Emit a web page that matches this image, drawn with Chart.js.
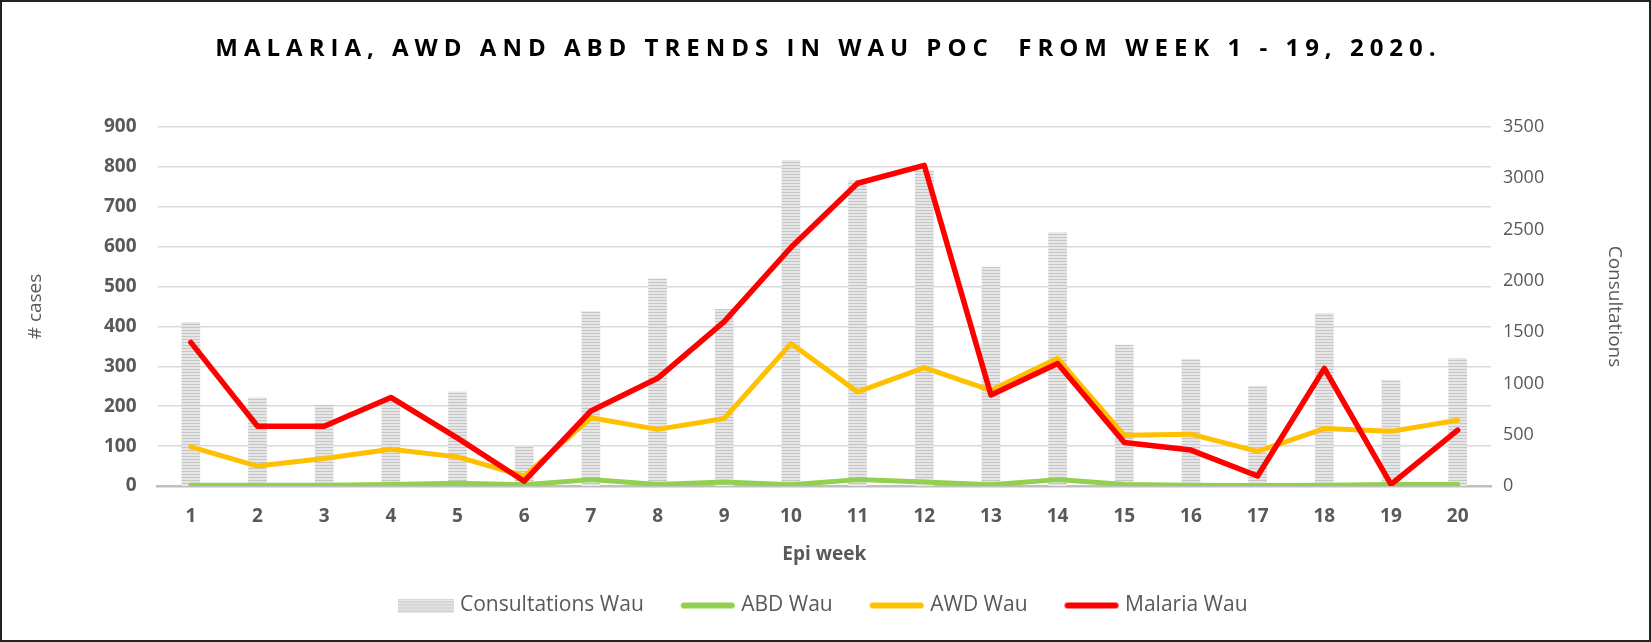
<!DOCTYPE html>
<html>
<head>
<meta charset="utf-8">
<script src="https://cdn.jsdelivr.net/npm/chart.js@4.4.1/dist/chart.umd.min.js"></script>
<style>
  html, body { margin: 0; padding: 0; background: #fff; }
  #wrap { position: relative; width: 1651px; height: 642px; overflow: hidden; }
  #chart { position: absolute; left: 0; top: 0; }
  #title {
    position: absolute; left: 0; top: 30px; width: 100%; padding-left: 6px; box-sizing: border-box;
    text-align: center; white-space: pre; color: #000;
    font: bold 24px "Open Sans", sans-serif; letter-spacing: 6px; line-height: 34px;
  }
  #frame { position: absolute; left: 0; top: 0; width: 1651px; height: 642px; box-sizing: border-box; border: 2px solid #222; pointer-events: none; }
</style>
</head>
<body>
<div id="wrap">
  <canvas id="chart" width="1651" height="642"></canvas>
  <div id="title">MALARIA, AWD AND ABD TRENDS IN WAU POC  FROM WEEK 1 - 19, 2020.</div>
  <div id="frame"></div>
</div>
<script>
const weeks = ["1", "2", "3", "4", "5", "6", "7", "8", "9", "10", "11", "12", "13", "14", "15", "16", "17", "18", "19", "20"];
const consultations = [1595, 860, 788, 820, 918, 397, 1700, 2019, 1722, 3175, 2976, 3074, 2133, 2471, 1374, 1234, 974, 1683, 1032, 1244];
const abd = [2, 2, 2, 4, 7, 3, 16, 4, 10, 3, 16, 10, 3, 16, 4, 2, 1, 2, 4, 4];
const awd = [98, 50, 69, 92, 73, 25, 171, 142, 169, 357, 236, 297, 240, 320, 127, 130, 87, 144, 137, 165];
const malaria = [360, 150, 150, 222, 120, 12, 188, 270, 412, 598, 759, 804, 228, 307, 109, 90, 25, 295, 4, 140];

const casesTicks = { min: 0, max: 900, step: 100 };
const consultTicks = { min: 0, max: 3500, step: 500 };

const grey = "#595959";

// horizontal stripe fill like the excel pattern
function stripeCanvas(w, h) {
  let c = document.createElement("canvas");
  c.width = w; c.height = h;
  let g = c.getContext("2d");
  g.fillStyle = "#e6e6e6";
  g.fillRect(0, 0, w, h);
  g.fillStyle = "#c6c6c6";
  for (let y = 0; y < h; y += 3) g.fillRect(0, y, w, 1);
  return c;
}

// legend swatch for the line series
function lineSwatch(color) {
  let c = document.createElement("canvas");
  c.width = 56; c.height = 14;
  let g = c.getContext("2d");
  g.strokeStyle = color;
  g.lineWidth = 6;
  g.lineCap = "round";
  g.beginPath();
  g.moveTo(4, 7);
  g.lineTo(52, 7);
  g.stroke();
  return c;
}

const ctx = document.getElementById("chart").getContext("2d");
const stripes = ctx.createPattern(stripeCanvas(4, 3), "repeat");

new Chart(ctx, {
  type: "bar",
  data: {
    labels: weeks,
    datasets: [
      {
        type: "bar",
        label: "Consultations Wau",
        data: consultations,
        yAxisID: "y1",
        backgroundColor: stripes,
        barThickness: 18,
        pointStyle: stripeCanvas(56, 14),
        order: 4
      },
      {
        type: "line",
        label: "ABD Wau",
        data: abd,
        borderColor: "#92d050",
        backgroundColor: "#92d050",
        borderWidth: 5,
        pointRadius: 0,
        pointStyle: lineSwatch("#92d050"),
        borderCapStyle: "round",
        borderJoinStyle: "round",
        order: 3
      },
      {
        type: "line",
        label: "AWD Wau",
        data: awd,
        borderColor: "#ffc000",
        backgroundColor: "#ffc000",
        borderWidth: 5,
        pointRadius: 0,
        pointStyle: lineSwatch("#ffc000"),
        borderCapStyle: "round",
        borderJoinStyle: "round",
        order: 2
      },
      {
        type: "line",
        label: "Malaria Wau",
        data: malaria,
        borderColor: "#ff0000",
        backgroundColor: "#ff0000",
        borderWidth: 5.5,
        pointRadius: 0,
        pointStyle: lineSwatch("#ff0000"),
        borderCapStyle: "round",
        borderJoinStyle: "round",
        order: 1
      }
    ]
  },
  options: {
    responsive: false,
    animation: false,
    layout: { padding: { top: 127, left: 16, right: 16, bottom: 16 } },
    plugins: {
      tooltip: { enabled: false },
      legend: {
        position: "bottom",
        reverse: true,
        labels: {
          usePointStyle: true,
          pointStyleWidth: 46,
          boxHeight: 14,
          padding: 41,
          color: grey,
          font: { family: "Open Sans", size: 21 }
        }
      }
    },
    scales: {
      x: {
        grid: { display: false, drawTicks: false },
        border: { color: "#bfbfbf", width: 2.5 },
        ticks: { color: grey, padding: 19, font: { family: "Open Sans", size: 19, weight: "bold" } },
        title: {
          display: true, text: "Epi week", color: grey,
          padding: { top: 0, bottom: -12 },
          font: { family: "Open Sans", size: 19, weight: "bold" }
        },
        afterFit: (s) => { s.height = 68; }
      },
      y: {
        position: "left",
        min: casesTicks.min, max: casesTicks.max,
        grid: { color: "#d9d9d9", lineWidth: 1.5, drawTicks: false },
        border: { display: false },
        ticks: { stepSize: casesTicks.step, padding: 21, color: grey, font: { family: "Open Sans", size: 19, weight: "bold" } },
        title: {
          display: true, text: "# cases", color: grey,
          padding: { top: 8, bottom: 0 },
          font: { family: "Open Sans", size: 19 }
        },
        afterFit: (s) => { s.width = 141.5; }
      },
      y1: {
        position: "right",
        min: consultTicks.min, max: consultTicks.max,
        grid: { display: false, drawTicks: false },
        border: { display: false },
        ticks: {
          stepSize: consultTicks.step, padding: 12, color: grey,
          font: { family: "Open Sans", size: 18 },
          callback: (v) => String(v)
        },
        title: {
          display: true, text: "Consultations", color: grey,
          padding: { top: 9, bottom: 0 },
          font: { family: "Open Sans", size: 19 }
        },
        afterFit: (s) => { s.width = 144; }
      }
    }
  }
});
</script>
</body>
</html>
